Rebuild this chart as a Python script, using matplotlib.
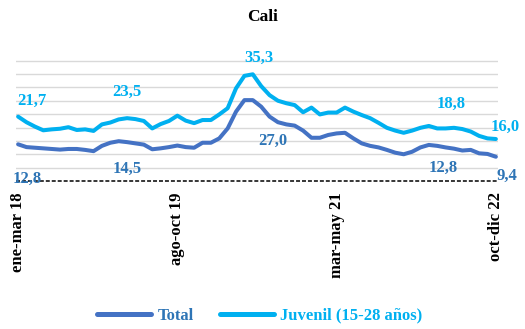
import numpy as np
import matplotlib
matplotlib.use("Agg")
import matplotlib.pyplot as plt

plt.rcParams["font.family"] = ["Liberation Serif", "DejaVu Serif"]
plt.rcParams["font.weight"] = "bold"

# Trimestres móviles ene-mar 18 ... oct-dic 22 (58 puntos)
n_points = 58
tick_idx = [0, 19, 38, 57]
tick_labels = ["ene-mar 18", "ago-oct 19", "mar-may 21", "oct-dic 22"]

# Tasa de desempleo, Cali
total = [12.8, 11.9, 11.7, 11.5, 11.3, 11.1, 11.3, 11.3, 11.0, 10.6,
         12.3, 13.3, 13.8, 13.5, 13.1, 12.7, 11.2, 11.5, 11.9, 12.4,
         11.9, 11.7, 13.3, 13.3, 14.7, 17.9, 23.3, 27.0, 27.0, 24.9,
         21.7, 19.9, 19.2, 18.8, 17.2, 14.9, 14.9, 15.8, 16.3, 16.5,
         14.7, 13.1, 12.3, 11.8, 11.0, 10.1, 9.6, 10.4, 11.8, 12.6,
         12.3, 11.8, 11.4, 10.8, 11.0, 9.9, 9.7, 8.8]
juvenil = [21.7, 19.9, 18.5, 17.3, 17.6, 17.8, 18.3, 17.4, 17.6, 17.1,
           19.2, 19.8, 20.8, 21.2, 20.9, 20.3, 17.9, 19.3, 20.3, 22.0,
           20.4, 19.6, 20.6, 20.6, 22.4, 24.4, 30.8, 34.8, 35.3, 31.5,
           28.6, 26.8, 26.0, 25.4, 23.1, 24.6, 22.4, 23.0, 23.0, 24.6,
           23.3, 22.2, 21.2, 19.7, 18.1, 17.2, 16.5, 17.2, 18.1, 18.7,
           17.9, 17.9, 18.1, 17.7, 16.9, 15.5, 14.7, 14.5]

# etiquetas de datos: (indice, texto, desplazamiento en pixeles)
juv_labels = [(0, "21,7", (14, 16)), (13, "23,5", (0, 26)), (28, "35,3", (6, 16)),
              (49, "18,8", (22, 22)), (57, "16,0", (9, 12))]
tot_labels = [(0, "12,8", (9, -35)), (13, "14,5", (0, -27)), (28, "27,0", (20, -41)),
              (49, "12,8", (14, -23)), (57, "9,4", (11, -19))]

c_total = "#4472C4"
c_total_txt = "#2E75B6"
c_juv = "#00B0F0"

fig = plt.figure(figsize=(5.25, 3.29), dpi=100)
ax = fig.add_axes([0.0305, 0.4498, 0.918, 0.383])

x = np.arange(n_points)
ax.plot(x, total, color=c_total, lw=2.9, solid_capstyle="round",
        solid_joinstyle="round", label="Total", zorder=3)
ax.plot(x, juvenil, color=c_juv, lw=2.9, solid_capstyle="round",
        solid_joinstyle="round", label="Juvenil (15-28 años)", zorder=3)

ax.set_xlim(-0.25, n_points - 0.75)
ax.set_ylim(1.0, 41.5)
ax.set_yticks(np.arange(5.3, 40.5, 4.3))
ax.yaxis.grid(True, color="#D9D9D9", lw=1.0)
ax.set_axisbelow(True)
ax.tick_params(axis="y", left=False, labelleft=False)
ax.axhline(1.0, color="black", lw=1.1, dashes=(2.6, 1.3), zorder=2, clip_on=False)

ax.set_xticks(tick_idx)
ax.set_xticklabels(tick_labels, rotation=90, fontsize=12, fontweight="bold")
ax.tick_params(axis="x", length=0, pad=8)
for s in ax.spines.values():
    s.set_visible(False)

for i, txt, off in juv_labels:
    ax.annotate(txt, xy=(i, juvenil[i]), xytext=off, textcoords="offset pixels",
                ha="center", va="center", color=c_juv, fontsize=12, fontweight="bold")
for i, txt, off in tot_labels:
    ax.annotate(txt, xy=(i, total[i]), xytext=off, textcoords="offset pixels",
                ha="center", va="center", color=c_total_txt, fontsize=12, fontweight="bold",
                annotation_clip=False)

fig.text(0.5, 1 - 17 / 329, "Cali", ha="center", va="center", fontsize=12.5, fontweight="bold")

leg = fig.legend(loc="center", bbox_to_anchor=(0.495, 0.04), ncol=2, frameon=False,
                 handlelength=3.2, handletextpad=0.4, columnspacing=1.6,
                 prop={"size": 12, "weight": "bold"})
for h in leg.get_lines():
    h.set_linewidth(3.6)
    h.set_solid_capstyle("round")
for t, c in zip(leg.get_texts(), [c_total_txt, c_juv]):
    t.set_color(c)

fig.savefig("out.png", dpi=100)
